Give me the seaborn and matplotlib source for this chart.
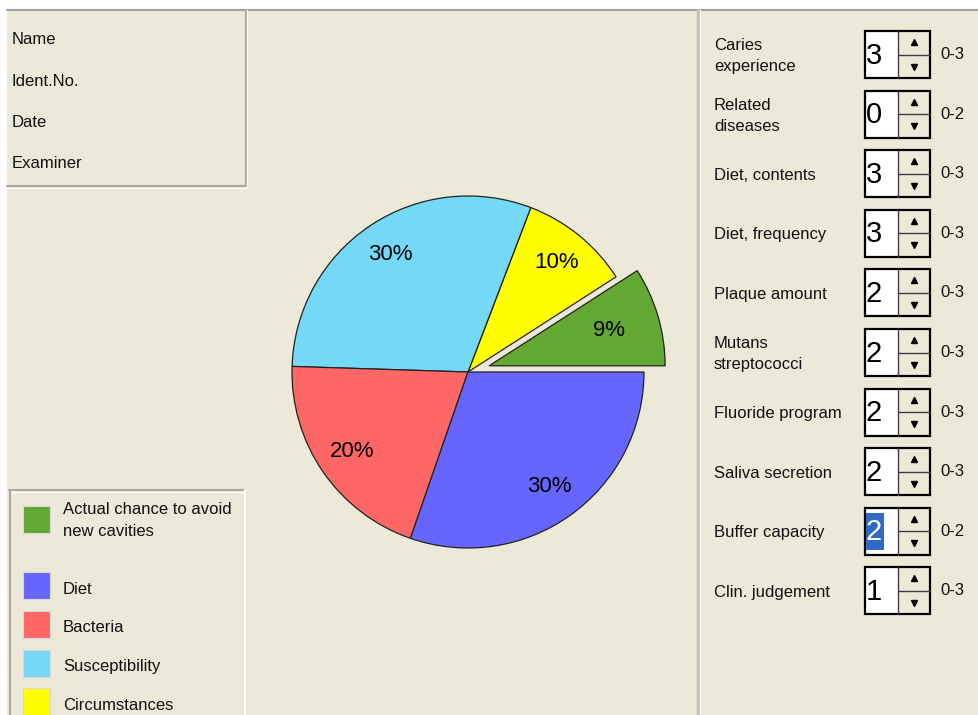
import matplotlib
matplotlib.use("Agg")
import matplotlib.pyplot as plt
from matplotlib.patches import Rectangle
import seaborn as sns

# Cariogram: pie slices counter-clockwise from 3 o'clock
slice_names = ["Actual chance to avoid\nnew cavities", "Circumstances", "Susceptibility", "Bacteria", "Diet"]
slice_values = [9, 10, 30, 20, 30]
slice_colors = ["#62a832", "#ffff00", "#74d9f7", "#ff6666", "#6666ff"]

legend_order = ["Actual chance to avoid\nnew cavities", "Diet", "Bacteria", "Susceptibility", "Circumstances"]

header_fields = ["Name", "Ident.No.", "Date", "Examiner"]

factors = ["Caries\nexperience", "Related\ndiseases", "Diet, contents", "Diet, frequency",
           "Plaque amount", "Mutans\nstreptococci", "Fluoride program", "Saliva secretion",
           "Buffer capacity", "Clin. judgement"]
scores = [3, 0, 3, 3, 2, 2, 2, 2, 2, 1]
score_ranges = ["0-3", "0-2", "0-3", "0-3", "0-3", "0-3", "0-3", "0-3", "0-2", "0-3"]
selected = "Buffer capacity"

sns.set_theme(style="white")
plt.rcParams['font.family'] = ['Liberation Sans', 'DejaVu Sans']

BEIGE = "#ece9d8"
GREY = "#aca899"
FS = 12

fig = plt.figure(figsize=(9.79, 7.15), dpi=100, facecolor="white")

# pixel-space canvas for the window furniture
ui = fig.add_axes([0, 0, 1, 1])
ui.set_xlim(0, 979)
ui.set_ylim(715, 0)
ui.axis("off")

ui.add_patch(Rectangle((7, 10), 972, 705, facecolor=BEIGE, edgecolor="none"))
ui.plot([7, 979], [9.5, 9.5], color="#a0a0a0", lw=1.5)
# main divider
ui.plot([698, 698], [10, 715], color="#c4c0b4", lw=2.5)
ui.plot([700.5, 700.5], [10, 715], color="white", lw=1)

# header box
ui.plot([7, 246], [186, 186], color=GREY, lw=1.5)
ui.plot([7, 247], [187.5, 187.5], color="white", lw=1)
ui.plot([246, 246], [10, 186], color=GREY, lw=1.5)
ui.plot([247.5, 247.5], [10, 188], color="white", lw=1)
for i, field in enumerate(header_fields):
    ui.text(12, 40 + 41.3 * i, field, fontsize=FS, va="center", ha="left", color="#111111")

# legend box
ui.plot([9, 245], [490, 490], color=GREY, lw=1.5)
ui.plot([10, 10], [490, 715], color=GREY, lw=1.5)
ui.plot([245.5, 245.5], [490, 715], color="white", lw=1.5)
ui.plot([11, 244], [491.5, 491.5], color="white", lw=1)
color_of = dict(zip(slice_names, slice_colors))
legend_y = [519.5, 585.5, 624.5, 663.5, 701.5]
for name, y in zip(legend_order, legend_y):
    ui.add_patch(Rectangle((23, y - 13.5), 27, 27, facecolor=color_of[name],
                           edgecolor="#d8d8d8", lw=0.8))
    ty = y + 1 if "\n" in name else y + 3.5
    ui.text(63, ty, name, fontsize=FS, va="center", ha="left", color="#111111",
            linespacing=1.5)

# risk factor spin boxes
for i, (fac, sc, rng) in enumerate(zip(factors, scores, score_ranges)):
    top = 31 + 59.6 * i
    cy = top + 23.5
    ui.text(714, cy + 1.5, fac, fontsize=FS, va="center", ha="left", color="#111111",
            linespacing=1.5)
    ui.add_patch(Rectangle((865, top), 33, 47, facecolor="white", edgecolor="none"))
    ui.add_patch(Rectangle((898, top), 32, 47, facecolor=BEIGE, edgecolor="none"))
    ui.plot([898, 898], [top, top + 47], color="#404040", lw=1)
    ui.plot([898, 930], [top + 23.5, top + 23.5], color="#404040", lw=1)
    ui.add_patch(Rectangle((865, top), 65, 47, facecolor="none", edgecolor="black", lw=1.6))
    ui.plot([914], [top + 11], marker="^", ms=4.5, color="black")
    ui.plot([914], [top + 35.5], marker="v", ms=4.5, color="black")
    if fac == selected:
        ui.add_patch(Rectangle((866.5, top + 5), 18, 37, facecolor="#316ac5", edgecolor="none"))
        digit_color = "white"
    else:
        digit_color = "black"
    ui.text(866, cy + 1, str(sc), fontsize=21, va="center", ha="left", color=digit_color)
    ui.text(940, cy, rng, fontsize=FS, va="center", ha="left", color="#111111")

# the pie itself
r_px = 176
cx, cy_img = 468, 372
pie_ax = fig.add_axes([(cx - r_px) / 979, (715 - cy_img - r_px) / 715,
                       2 * r_px / 979, 2 * r_px / 715])
explode = [0.125 if n.startswith("Actual") else 0 for n in slice_names]
wedges, texts, autotexts = pie_ax.pie(
    slice_values, colors=slice_colors, explode=explode, startangle=0,
    counterclock=True, autopct="%.0f%%", pctdistance=0.8, radius=1,
    wedgeprops=dict(edgecolor="#222222", linewidth=0.9),
    textprops=dict(fontsize=16, color="black"))
# pull the exploded slice label a little toward its apex
x0, y0 = autotexts[0].get_position()
autotexts[0].set_position((x0 * 0.9, y0 * 0.9))
pie_ax.set_xlim(-1, 1)
pie_ax.set_ylim(-1, 1)
pie_ax.set_aspect("equal")
pie_ax.axis("off")
for w in wedges:
    w.set_clip_on(False)

fig.savefig("out.png", dpi=100, facecolor=fig.get_facecolor())
